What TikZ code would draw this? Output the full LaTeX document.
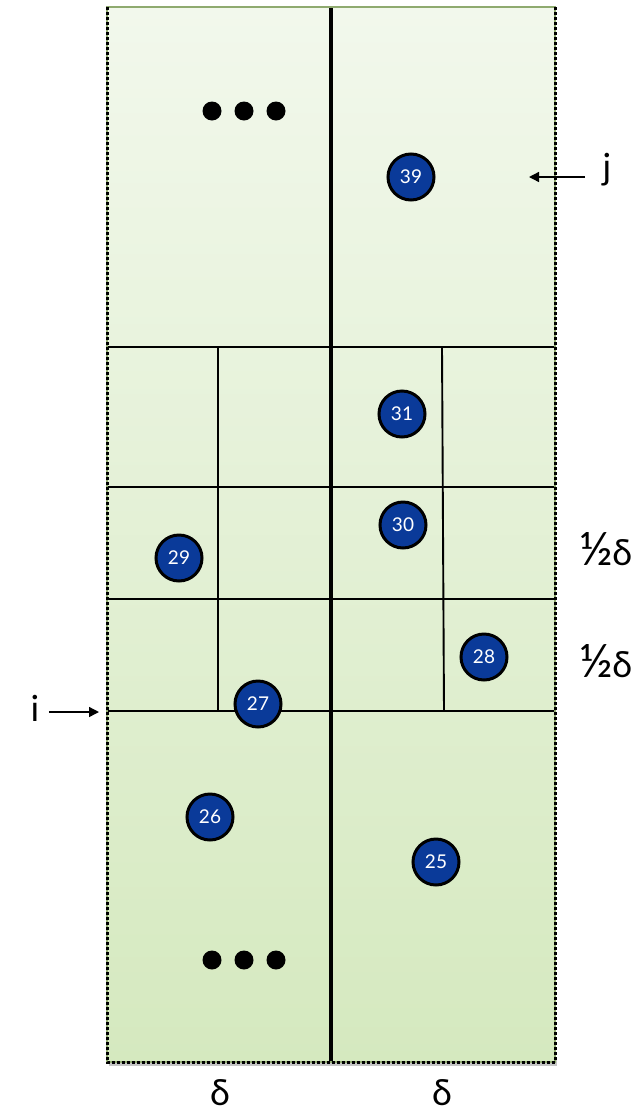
\documentclass[tikz,border=0pt]{standalone}
\usepackage{fontspec}
\setmainfont{Lato}
\usetikzlibrary{arrows.meta}

\definecolor{striptop}{HTML}{F2F8EC}
\definecolor{stripbot}{HTML}{D5E9BF}
\definecolor{stripedge}{HTML}{8FAA6F}
\definecolor{ptblue}{HTML}{0A3A99}

\tikzset{
  pt/.style={circle,draw=black,line width=3pt,fill=ptblue,text=white,
    minimum size=46pt,inner sep=0pt,font=\fontsize{19}{19}\selectfont},
  more/.style={circle,fill=black,minimum size=19pt,inner sep=0pt},
  lbl/.style={font=\fontsize{36}{36}\selectfont},
  cell/.style={line width=1.9pt},
  pointer/.style={-{Triangle[length=10pt,width=10pt]},line width=1.4pt},
}

\begin{document}
\begin{tikzpicture}[x=1pt,y=-1pt]
\useasboundingbox (0,0) rectangle (644,1117);

% Strip with shadow
\fill[black!45,opacity=.5] (109,1060) rectangle (557,1066);
\shade[top color=striptop,bottom color=stripbot] (107,7) rectangle (555,1062);

% Dividing line
\draw[line width=4pt] (331,7) -- (331,1062);

% Boxes of size 1/2 delta
\foreach \y in {347,487,599,711}
{
  \draw[cell] (107,\y) -- (555,\y);
}
\draw[cell] (218,347) -- (218,711);
\draw[cell] (442,347) -- (444,711);

% Border
\draw[stripedge,line width=1.5pt] (107,1062) -- (107,7) -- (555,7) -- (555,1062) -- cycle;
\draw[line width=3pt,dash pattern=on 3pt off 2pt] (107,7) -- (107,1062) -- (555,1062) -- (555,7);

% Points not shown
\foreach \x [count=\k] in {212,244,276}
{
  \node[more] (up\k) at (\x,111) {};
  \node[more] (down\k) at (\x,960) {};
}

% Points sorted by y
\foreach \n/\x/\y in {39/411/177, 31/402/414, 30/403/525, 29/179/558,
                      28/484/657, 27/258/704, 26/210/817, 25/436/862}
{
  \node[pt] (p\n) at (\x,\y) {\n};
}

% Indices i and j
\node[lbl] (j) at (607,170) {j};
\coordinate (jtip) at (529,177);
\draw[pointer,shorten <=14pt] (j.west |- jtip) -- (jtip);

\node[lbl] (i) at (35,708) {i};
\coordinate (itip) at (99,712);
\draw[pointer,shorten <=6pt] (i.east |- itip) -- (itip);

% Widths
\node[lbl] (half1) at (606,549) {{\fontsize{46}{46}\selectfont ½}\kern-1ptδ};
\node[lbl] (half2) at (606,661) {{\fontsize{46}{46}\selectfont ½}\kern-1ptδ};
\node[lbl] (dl) at (220,1093) {δ};
\node[lbl] (dr) at (442,1093) {δ};

\end{tikzpicture}
\end{document}
